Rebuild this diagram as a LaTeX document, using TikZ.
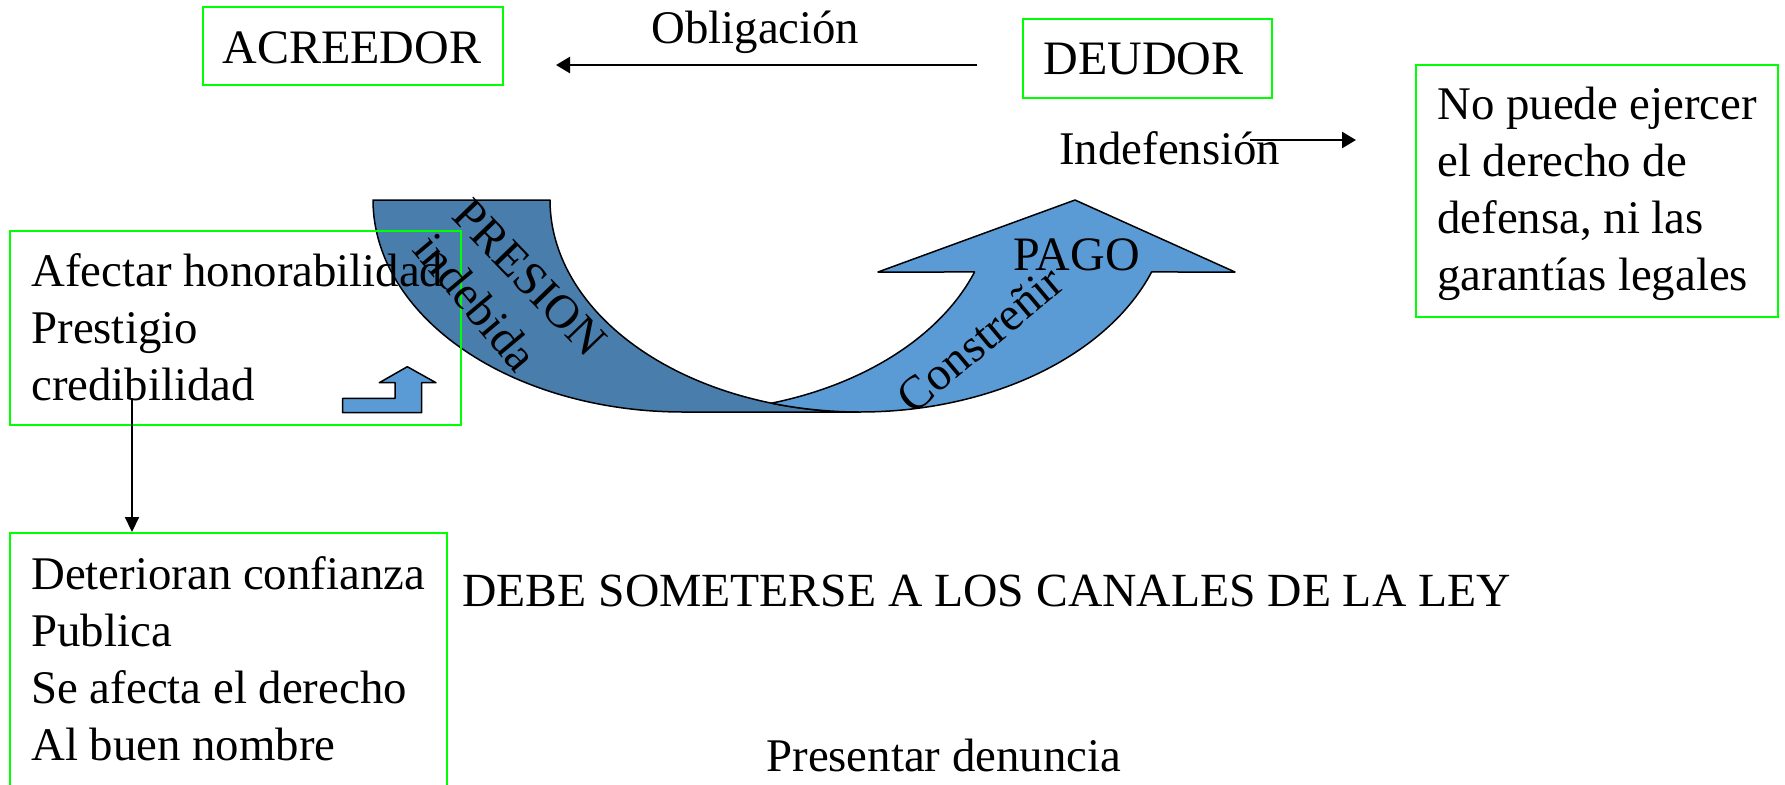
\documentclass[tikz,border=0pt]{standalone}
\usepackage{fontspec}
\setmainfont{Liberation Serif}
\usetikzlibrary{arrows.meta,fit}
\definecolor{boxgreen}{RGB}{0,255,0}
\definecolor{darkband}{RGB}{73,125,172}
\definecolor{lightband}{RGB}{91,155,213}
\begin{document}
\begin{tikzpicture}[x=0.5pt,y=-0.5pt,
  gbox/.style={draw=boxgreen, line width=1pt, inner sep=0pt},
  txt/.style={anchor=base west, inner sep=0pt, font=\fontsize{23.4}{28.5}\selectfont, align=left},
  captxt/.style={txt, font=\fontsize{24}{28.5}\selectfont},
  rtxt/.style={anchor=center, inner sep=0pt, font=\fontsize{23.6}{28.5}\selectfont},
  conn/.style={line width=1.3pt, -{Triangle[length=7pt,width=8pt]}},
  connthin/.style={line width=1pt, -{Triangle[length=7.5pt,width=7pt]}},
  bandline/.style={draw=black, line width=0.75pt, line join=round}]

\useasboundingbox (0,0) rectangle (1785,784);

% curved up arrow: dark back part
\filldraw[darkband, bandline]
  plot[domain=180:90, samples=80] ({683+310*cos(\x)},{200+212*sin(\x)})
  -- plot[domain=90:180, samples=80] ({860+310*cos(\x)},{200+212*sin(\x)})
  -- cycle;
% curved up arrow: light front part
\filldraw[lightband, bandline]
  plot[domain=73.4:19.85, samples=60] ({683+310*cos(\x)},{200+212*sin(\x)})
  -- (878,272) -- (1075,200) -- (1235,272)
  -- plot[domain=19.85:106.6, samples=80] ({860+310*cos(\x)},{200+212*sin(\x)})
  -- cycle;

% small bent-up arrow
\filldraw[lightband, bandline] (342.7,398.3) -- (395,398.3) -- (395,382.7) -- (379.3,382.7)
  -- (407.3,366.7) -- (436,382.7) -- (421.7,382.7) -- (421.7,412.7) -- (342.7,412.7) -- cycle;

% boxes
\node[gbox, fit={(203,7) (503,85)}] (acreedor) {};
\node[gbox, fit={(1023,19) (1272,98)}] (deudor) {};
\node[gbox, fit={(1416,65) (1778,317)}] (nopuede) {};
\node[gbox, fit={(10,231) (461,425)}] (afectar) {};
\node[gbox, fit={(10,533) (447,800)}] (deter) {};

% texts (multi-line nodes are anchored at the baseline of their last line)
\node[captxt] (tacre) at (222,63) {ACREEDOR};
\node[captxt] (tdeu) at (1043,74) {DEUDOR};
\node[txt] (tobl) at (651,43) {Obligación};
\node[txt] (tindef) at (1059,164) {Indefensión};
\node[txt] (tnop) at (1437,290) {No puede ejercer\\el derecho de\\defensa, ni las\\garantías legales};
\node[txt] (tafe) at (31,400) {Afectar honorabilidad\\Prestigio\\credibilidad};
\node[txt] (tdet) at (31,760) {Deterioran confianza\\Publica\\Se afecta el derecho\\Al buen nombre};
\node[captxt, font=\fontsize{23.8}{28.5}\selectfont] (tdebe) at (462,606) {DEBE SOMETERSE A LOS CANALES DE LA LEY};
\node[txt] (tpresen) at (766,771) {Presentar denuncia};
\node[captxt] (tpago) at (1013,270) {PAGO};
\node[rtxt, rotate=-46] (tpresion) at (530,278) {PRESION};
\node[rtxt, rotate=-50] (tindeb) at (476,302) {indebida};
\node[rtxt, rotate=40] (tcons) at (980,339) {Constreñir};

% connectors
\coordinate (oblS) at (977,65);
\coordinate (oblE) at (556,65);
\draw[conn] (oblS) -- (oblE);
\coordinate (indS) at (1250,140);
\coordinate (indE) at (1356,140);
\draw[conn] (indS) -- (indE);
\coordinate (credS) at (132,398);
\draw[connthin] (credS) -- (credS |- deter.north);
\end{tikzpicture}
\end{document}
